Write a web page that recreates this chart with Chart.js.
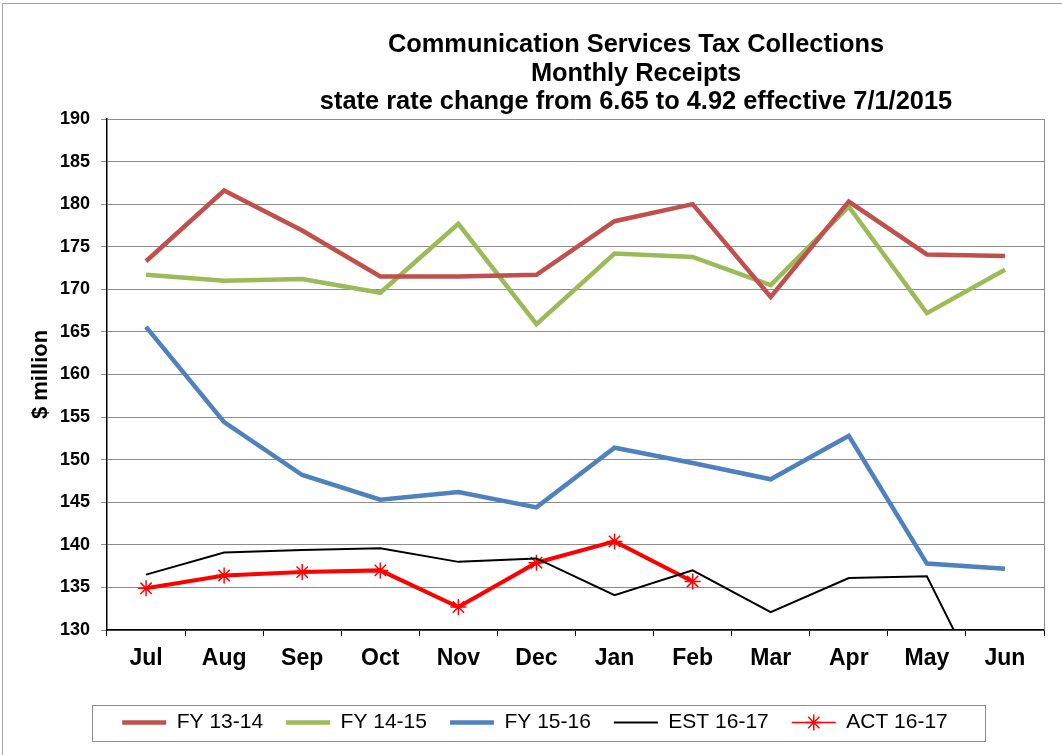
<!DOCTYPE html>
<html>
<head>
<meta charset="utf-8">
<script src="https://cdn.jsdelivr.net/npm/chart.js@4/dist/chart.umd.min.js"></script>
<style>
	html, body { margin: 0; padding: 0; background: #fff; }
	#wrap { width: 1062px; height: 755px; }
</style>
</head>
<body>
<div id="wrap"><canvas id="chart" width="1062" height="755"></canvas></div>
<script>
const months = ["Jul", "Aug", "Sep", "Oct", "Nov", "Dec", "Jan", "Feb", "Mar", "Apr", "May", "Jun"];
const fy1314 = [173.3, 181.6, 176.9, 171.5, 171.5, 171.7, 178.0, 180.0, 169.1, 180.3, 174.1, 173.9];
const fy1415 = [171.7, 171.0, 171.2, 169.6, 177.7, 165.9, 174.2, 173.8, 170.5, 179.7, 167.2, 172.3];
const fy1516 = [165.6, 154.4, 148.2, 145.3, 146.2, 144.4, 151.4, 149.6, 147.7, 152.8, 137.8, 137.2];
const est1617 = [136.5, 139.1, 139.4, 139.6, 138.0, 138.4, 134.1, 137.0, 132.1, 136.1, 136.3, 118.0];
const act1617 = [134.9, 136.4, 136.8, 137.0, 132.7, 137.9, 140.4, 135.7, null, null, null, null];
const titleLines = [
	"Communication Services Tax Collections",
	"Monthly Receipts",
	"state rate change from 6.65 to 4.92 effective 7/1/2015",
];
const FONT = "'Liberation Sans', Arial, sans-serif";

// title, frame lines and legend box drawn on top of the chart
const extras = {
	id: "extras",
	afterDraw(chart) {
		const ctx = chart.ctx;
		const area = chart.chartArea;
		ctx.save();
		// outer frame (top and left visible in reference)
		ctx.strokeStyle = "#a6a6a6";
		ctx.lineWidth = 1;
		ctx.strokeRect(2.5, 3.5, 1100, 800);
		// plot right border
		ctx.strokeStyle = "#8c8c8c";
		ctx.beginPath();
		ctx.moveTo(Math.round(area.right) + 0.5, area.top);
		ctx.lineTo(Math.round(area.right) + 0.5, area.bottom);
		ctx.stroke();
		// title
		ctx.fillStyle = "#000";
		ctx.font = "bold 25.4px " + FONT;
		ctx.textAlign = "center";
		ctx.textBaseline = "middle";
		const ys = [45, 74, 102];
		titleLines.forEach((t, i) => ctx.fillText(t, 636, ys[i]));
		// legend frame + star marker
		const boxes = chart.legend.legendHitBoxes;
		if (boxes && boxes.length) {
			const first = boxes[0];
			const last = boxes[boxes.length - 1];
			const cy = first.top + first.height / 2;
			ctx.strokeStyle = "#8c8c8c";
			ctx.strokeRect(Math.round(first.left - 30) + 0.5, Math.round(cy - 18) + 0.5,
				Math.round(last.left + last.width + 37 - first.left + 30), 36);
			const b = boxes[4];
			const sx = b.left + 22;
			ctx.strokeStyle = "#ff0000";
			ctx.lineWidth = 1.5;
			ctx.beginPath();
			for (let k = 0; k < 4; k++) {
				const a = k * Math.PI / 4;
				ctx.moveTo(sx - 8 * Math.cos(a), cy - 8 * Math.sin(a));
				ctx.lineTo(sx + 8 * Math.cos(a), cy + 8 * Math.sin(a));
			}
			ctx.stroke();
		}
		ctx.restore();
	},
};

const data = {
	labels: months,
	datasets: [
		{ label: "FY 13-14", data: fy1314, borderColor: "#c0504d", backgroundColor: "#c0504d", borderWidth: 4.5, pointRadius: 0 },
		{ label: "FY 14-15", data: fy1415, borderColor: "#9bbb59", backgroundColor: "#9bbb59", borderWidth: 4.5, pointRadius: 0 },
		{ label: "FY 15-16", data: fy1516, borderColor: "#4f81bd", backgroundColor: "#4f81bd", borderWidth: 4.5, pointRadius: 0 },
		{ label: "EST 16-17", data: est1617, borderColor: "#000000", backgroundColor: "#000000", borderWidth: 2, pointRadius: 0 },
		{
			label: "ACT 16-17", data: act1617, borderColor: "#ff0000", backgroundColor: "#ff0000", borderWidth: 4,
			pointStyle: "star", pointRadius: 8, pointBorderWidth: 1.5, pointBorderColor: "#ff0000",
		},
	],
};

const options = {
	responsive: false,
	animation: false,
	layout: { padding: { top: 119, right: 18, left: 26, bottom: 12 } },
	plugins: {
		title: { display: false },
		tooltip: { enabled: false },
		legend: {
			position: "bottom",
			labels: {
				usePointStyle: true,
				pointStyle: "line",
				pointStyleWidth: 44,
				color: "#000",
				font: { family: FONT, size: 21 },
				padding: 23,
			},
		},
	},
	scales: {
		x: {
			offset: true,
			afterFit(scale) { scale.height = 59; },
			grid: { offset: true, drawOnChartArea: false, drawTicks: true, tickLength: 6, color: "#000" },
			border: { display: true, color: "#000", width: 1.5 },
			ticks: { color: "#000", padding: 9, font: { family: FONT, size: 23, weight: "bold" } },
		},
		y: {
			min: 130,
			max: 190,
			afterFit(scale) { scale.width = 81; },
			ticks: { stepSize: 5, color: "#000", padding: 11, font: { family: FONT, size: 18, weight: "bold" } },
			grid: { color: "#8c8c8c", lineWidth: 1, tickLength: 6 },
			border: { display: true, color: "#000", width: 1.5 },
			title: {
				display: true,
				text: "$ million",
				color: "#000",
				font: { family: FONT, size: 22, weight: "bold" },
				padding: { top: 2, bottom: 0 },
			},
		},
	},
};

const config = {
	type: "line",
	data: data,
	options: options,
	plugins: [extras],
};

new Chart(document.getElementById("chart").getContext("2d"), config);
</script>
</body>
</html>
